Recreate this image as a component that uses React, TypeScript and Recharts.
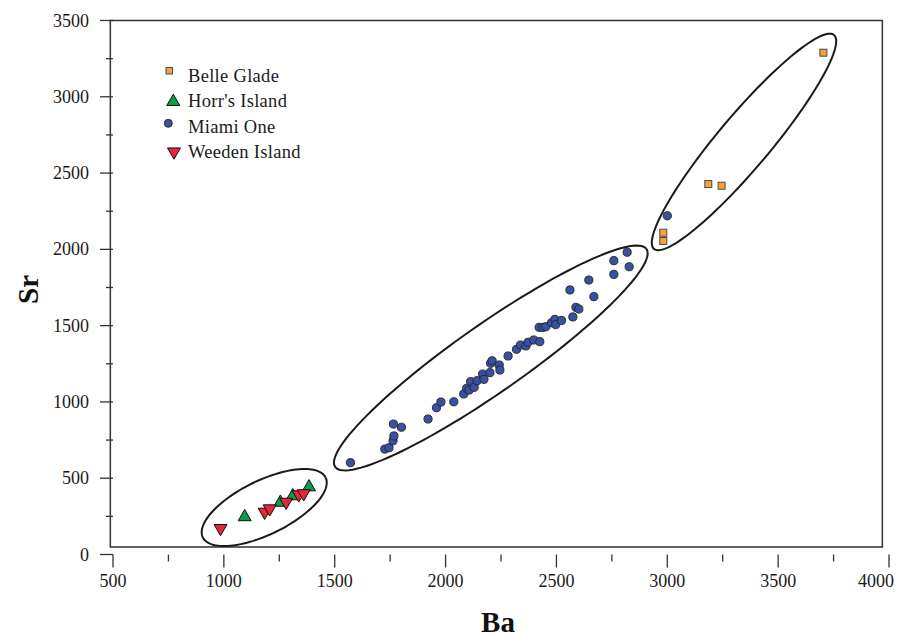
import React from 'react';
import { ScatterChart, Scatter, XAxis, YAxis, ReferenceArea } from 'recharts';

// ---- axis ticks ----
const baTicks = [500, 750, 1000, 1250, 1500, 1750, 2000, 2250, 2500, 2750, 3000, 3250, 3500, 3750, 4000];
const srTicks = [0, 250, 500, 750, 1000, 1250, 1500, 1750, 2000, 2250, 2500, 2750, 3000, 3250, 3500];

// ---- series (Ba, Sr) ----
const belleGladeBa = [3704, 3185, 3245, 2982, 2982];
const belleGladeSr = [3289, 2428, 2417, 2109, 2055];

const horrsBa = [1094, 1255, 1311, 1384];
const horrsSr = [246, 341, 383, 442];

const weedenBa = [985, 1184, 1207, 1281, 1338, 1360];
const weedenSr = [172, 279, 301, 344, 393, 400];

const miamiBa = [
  1571, 1726, 1745, 1763, 1767, 1765, 1801, 1921, 1959, 1979, 2037, 2082, 2095, 2106, 2113, 2129, 2142,
  2167, 2173, 2200, 2203, 2210, 2242, 2245, 2282, 2320, 2338, 2362, 2372, 2398, 2425, 2422, 2439, 2452,
  2478, 2493, 2497, 2523, 2574, 2588, 2601, 2561, 2646, 2669, 2759, 2759, 2819, 2828, 3000,
];
const miamiSr = [
  602, 691, 700, 746, 777, 855, 834, 888, 962, 999, 1001, 1052, 1089, 1078, 1133, 1096, 1139,
  1183, 1148, 1192, 1253, 1270, 1242, 1209, 1301, 1345, 1373, 1367, 1391, 1406, 1395, 1489, 1488, 1493,
  1519, 1541, 1507, 1534, 1557, 1620, 1609, 1734, 1799, 1690, 1926, 1836, 1981, 1886, 2220,
];

// ---- group ellipses: centre, half major-axis vector, half minor-axis vector (data units) ----
const ellipseCenters = [[1182, 308], [2204, 1288], [3346, 2704]];
const ellipseMajor = [[277, 196], [702, 714], [406, 701]];
const ellipseMinor = [[53, -159], [88, -182], [90, -111]];

const zip = (xs: number[], ys: number[]) => xs.map((ba, i) => ({ ba, sr: ys[i] }));
const belleGlade = zip(belleGladeBa, belleGladeSr);
const horrs = zip(horrsBa, horrsSr);
const weeden = zip(weedenBa, weedenSr);
const miami = zip(miamiBa, miamiSr);

const ellipseOutline = (k: number) => {
  const [cx, cy] = ellipseCenters[k];
  const [ax, ay] = ellipseMajor[k];
  const [bx, by] = ellipseMinor[k];
  const pts: { ba: number; sr: number }[] = [];
  const n = 120;
  for (let i = 0; i <= n; i++) {
    const t = (i / n) * Math.PI * 2;
    pts.push({ ba: cx + ax * Math.cos(t) + bx * Math.sin(t), sr: cy + ay * Math.cos(t) + by * Math.sin(t) });
  }
  return pts;
};

const FONT = "'Liberation Serif', 'Times New Roman', serif";
const ORANGE = '#f6a139';
const GREEN = '#0c9a4b';
const BLUE = '#3851a3';
const RED = '#e62639';

const Square = ({ cx, cy, s = 7 }: any) => (
  <rect x={cx - s / 2} y={cy - s / 2} width={s} height={s} fill={ORANGE} stroke="#4a4a4a" strokeWidth={1} />
);
const Circle = ({ cx, cy, r = 4.1 }: any) => (
  <circle cx={cx} cy={cy} r={r} fill={BLUE} stroke="#222" strokeWidth={0.9} />
);
const TriUp = ({ cx, cy, s = 13 }: any) => {
  const h = s * 0.866;
  return (
    <polygon
      points={`${cx - s / 2},${cy + h / 3} ${cx + s / 2},${cy + h / 3} ${cx},${cy - (2 * h) / 3}`}
      fill={GREEN}
      stroke="#111"
      strokeWidth={1}
    />
  );
};
const TriDown = ({ cx, cy, s = 13 }: any) => {
  const h = s * 0.866;
  return (
    <polygon
      points={`${cx - s / 2},${cy - h / 3} ${cx + s / 2},${cy - h / 3} ${cx},${cy + (2 * h) / 3}`}
      fill={RED}
      stroke="#111"
      strokeWidth={1}
    />
  );
};

const XTick = (props: any) => {
  const { x, y, payload } = props;
  const v = payload.value;
  const major = v % 500 === 0;
  const last = v === 4000;
  return (
    <g>
      <line x1={x} x2={x} y1={y} y2={y + (major ? 13 : 7)} stroke="#333" strokeWidth={1.3} />
      {major && (
        <text
          x={last ? x + 5 : x}
          y={y + 26}
          textAnchor={last ? 'end' : 'middle'}
          dominantBaseline="central"
          fontFamily={FONT}
          fontSize={18}
          fill="#1a1a1a"
        >
          {v}
        </text>
      )}
    </g>
  );
};

const YTick = (props: any) => {
  const { x, y, payload } = props;
  const v = payload.value;
  const major = v % 500 === 0;
  return (
    <g>
      <line x1={x - (major ? 13 : 7)} x2={x} y1={y} y2={y} stroke="#333" strokeWidth={1.3} />
      {major && (
        <text x={x - 24} y={y} textAnchor="end" dominantBaseline="central" fontFamily={FONT} fontSize={18} fill="#1a1a1a">
          {v}
        </text>
      )}
    </g>
  );
};

const legendItems = [
  { label: 'Belle Glade', kind: 'square' },
  { label: "Horr's Island", kind: 'up' },
  { label: 'Miami One', kind: 'circle' },
  { label: 'Weeden Island', kind: 'down' },
];

// legend drawn in page coordinates offset by (150, 52)
const LegendBox = () => (
  <svg width={220} height={120} style={{ position: 'absolute', left: 142, top: 44, overflow: 'visible' }}>
    {legendItems.map((it, i) => {
      const yb = 81.7 + i * 25.5;
      const my = [70.7, 101.7, 123.3, 151.7][i];
      const mx = [169.3, 173.3, 168.3, 174][i];
      return (
        <g key={it.label}>
          {it.kind === 'square' && <Square cx={mx - 150} cy={my - 52} s={6.5} />}
          {it.kind === 'up' && <TriUp cx={mx - 150} cy={my - 52} s={13} />}
          {it.kind === 'circle' && <Circle cx={mx - 150} cy={my - 52} r={4} />}
          {it.kind === 'down' && <TriDown cx={mx - 150} cy={my - 52} s={13} />}
          <text x={188 - 150} y={yb - 52} fontFamily={FONT} fontSize={18.5} fill="#1a1a1a" letterSpacing={0.3}>
            {it.label}
          </text>
        </g>
      );
    })}
  </svg>
);

const NoShape = () => <g />;

export default function App() {
  return (
    <div style={{ width: 887, height: 628, position: 'relative' }}>
      <ScatterChart width={887} height={628} margin={{ top: 12.5, right: 6, bottom: 0, left: 0 }} style={{ fontFamily: FONT }}>
        <XAxis
          type="number"
          dataKey="ba"
          domain={[500, 4000]}
          ticks={baTicks}
          interval={0}
          allowDataOverflow
          axisLine={false}
          tickLine={false}
          tickSize={0}
          tickMargin={0}
          height={81.5}
          tick={<XTick />}
          label={{
            content: (p: any) => {
              const vb = p.viewBox;
              return (
                <text x={vb.x + vb.width / 2 - 3} y={vb.y + 67} textAnchor="middle" dominantBaseline="central" fontFamily={FONT} fontWeight="bold" fontSize={29} fill="#111">
                  Ba
                </text>
              );
            },
          }}
        />
        <YAxis
          type="number"
          dataKey="sr"
          domain={[0, 3500]}
          ticks={srTicks}
          interval={0}
          allowDataOverflow
          axisLine={false}
          tickLine={false}
          tickSize={0}
          tickMargin={0}
          width={105}
          tick={<YTick />}
          label={{
            content: (p: any) => {
              const vb = p.viewBox;
              const cy = vb.y + vb.height / 2 + 2;
              return (
                <text x={20} y={cy} transform={`rotate(-90 20 ${cy})`} textAnchor="middle" dominantBaseline="central" fontFamily={FONT} fontWeight="bold" fontSize={29} fill="#111">
                  Sr
                </text>
              );
            },
          }}
        />
        <ReferenceArea x1={488} x2={3970} y1={49} y2={3500} fill="none" fillOpacity={0} stroke="#333" strokeWidth={1.5} ifOverflow="visible" />
        {[0, 1, 2].map((k) => (
          <Scatter
            key={'e' + k}
            data={ellipseOutline(k)}
            line={{ stroke: '#1a1a1a', strokeWidth: 2 }}
            lineType="joint"
            shape={<NoShape />}
            legendType="none"
            isAnimationActive={false}
          />
        ))}
        <Scatter name="Belle Glade" data={belleGlade} shape={(p: any) => <Square cx={p.cx} cy={p.cy} />} isAnimationActive={false} />
        <Scatter name="Miami One" data={miami} shape={(p: any) => <Circle cx={p.cx} cy={p.cy} />} isAnimationActive={false} />
        <Scatter name="Horr's Island" data={horrs} shape={(p: any) => <TriUp cx={p.cx} cy={p.cy} />} isAnimationActive={false} />
        <Scatter name="Weeden Island" data={weeden} shape={(p: any) => <TriDown cx={p.cx} cy={p.cy} />} isAnimationActive={false} />
      </ScatterChart>
      <LegendBox />
    </div>
  );
}
